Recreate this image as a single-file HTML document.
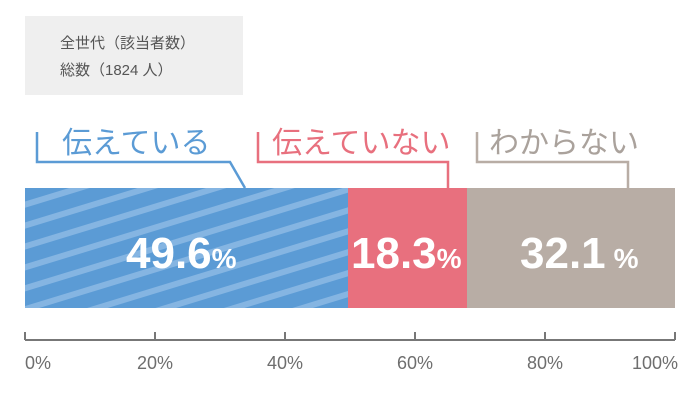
<!DOCTYPE html>
<html><head><meta charset="utf-8"><style>
body{margin:0;width:700px;height:400px;background:#fff;overflow:hidden;font-family:"Liberation Sans","Noto Sans CJK JP",sans-serif;}
svg text{font-family:"Liberation Sans","Noto Sans CJK JP",sans-serif;}
</style></head><body>
<svg width="700" height="400" viewBox="0 0 700 400" xmlns="http://www.w3.org/2000/svg">
<defs>
<pattern id="st" patternUnits="userSpaceOnUse" width="64" height="20" patternTransform="rotate(-17)">
<rect width="64" height="20" fill="#5b9bd5"/>
<rect y="0" width="64" height="6" fill="#85b5e2"/>
</pattern>
</defs>
<rect x="25" y="16" width="218" height="79" fill="#efefef"/>
<text x="60" y="48" font-size="15" fill="#555">全世代（該当者数）</text>
<text x="60" y="75" font-size="15" fill="#555">総数（1824 人）</text>

<rect x="25" y="188" width="323" height="120" fill="url(#st)"/>
<rect x="348" y="188" width="119" height="120" fill="#e8707e"/>
<rect x="467" y="188" width="208" height="120" fill="#b8ada5"/>

<g fill="none" stroke-width="2.5">
<polyline points="37,132 37,162 230,162 245,188" stroke="#5b9bd5"/>
<polyline points="258,132 258,162 448,162 448,188" stroke="#e8707e"/>
<polyline points="477,132 477,162 628,162 628,188" stroke="#b8ada5"/>
</g>
<text x="62" y="153" font-size="30" fill="#5b9bd5">伝えている</text>
<text x="272" y="153" font-size="30" fill="#e8707e">伝えていない</text>
<text x="489" y="153" font-size="30" fill="#aaa29c">わからない</text>

<g fill="#fff" font-weight="bold">
<text x="126" y="268" font-size="44">49.6<tspan font-size="28">%</tspan></text>
<text x="351" y="268" font-size="44">18.3<tspan font-size="28">%</tspan></text>
<text x="520" y="268" font-size="44">32.1<tspan font-size="28" dx="8">%</tspan></text>
</g>

<g stroke="#777" stroke-width="2">
<line x1="25" y1="340" x2="675" y2="340"/>
<line x1="25" y1="332" x2="25" y2="340"/>
<line x1="155" y1="332" x2="155" y2="340"/>
<line x1="285" y1="332" x2="285" y2="340"/>
<line x1="415" y1="332" x2="415" y2="340"/>
<line x1="545" y1="332" x2="545" y2="340"/>
<line x1="675" y1="332" x2="675" y2="340"/>
</g>
<g fill="#6e6e6e" font-size="18">
<text x="25" y="369">0%</text>
<text x="155" y="369" text-anchor="middle">20%</text>
<text x="285" y="369" text-anchor="middle">40%</text>
<text x="415" y="369" text-anchor="middle">60%</text>
<text x="545" y="369" text-anchor="middle">80%</text>
<text x="678" y="369" text-anchor="end">100%</text>
</g>
</svg>
</body></html>
